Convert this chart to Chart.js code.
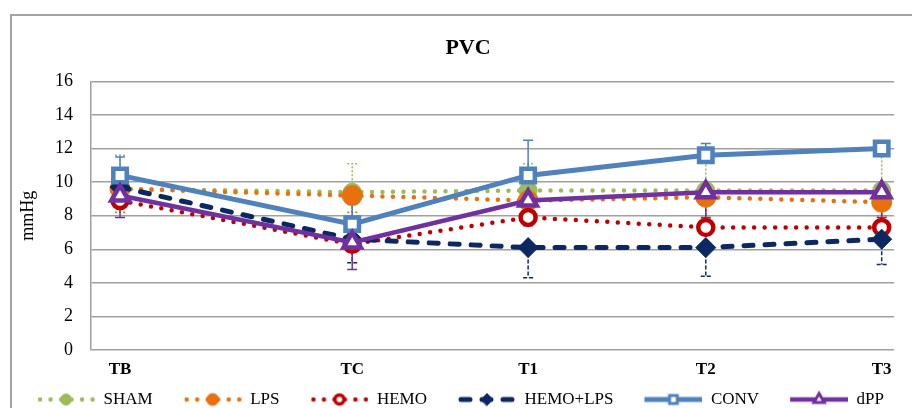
<!DOCTYPE html>
<html>
<head>
<meta charset="utf-8">
<script src="https://cdn.jsdelivr.net/npm/chart.js@4"></script>
<style>
  html, body { margin: 0; padding: 0; background: #fff; overflow: hidden; width: 912px; height: 408px; }
  #frame { position: absolute; left: 10px; top: 14px; width: 940px; height: 440px; border: 2px solid #a3a3a3; box-sizing: border-box; }
  #c { position: absolute; left: 0; top: 0; }
</style>
</head>
<body>
<div id="frame"></div>
<canvas id="c" width="936" height="418"></canvas>
<script>
// ---- data ----
const categories = ['TB', 'TC', 'T1', 'T2', 'T3'];
const timePoints = [0, 1.32, 2.32, 3.33, 4.33];
const yTicks = [0, 2, 4, 6, 8, 10, 12, 14, 16];
const seriesNames = ['SHAM', 'LPS', 'HEMO', 'HEMO+LPS', 'CONV', 'dPP'];

const shamValues    = [9.6, 9.4, 9.5, 9.5, 9.5];
const lpsValues     = [9.6, 9.2, 8.9, 9.1, 8.8];
const hemoValues    = [8.9, 6.3, 7.9, 7.3, 7.3];
const hemoLpsValues = [9.7, 6.6, 6.1, 6.1, 6.6];
const convValues    = [10.4, 7.5, 10.4, 11.6, 12.0];
const dppValues     = [9.2, 6.4, 8.9, 9.4, 9.4];

// standard deviations (drawn one-sided, as in the reference)
const shamErr    = [2.0, 1.7, 1.6, 2.0, 2.4];
const lpsErr     = [1.4, 1.0, 0.8, 1.3, 0.8];
const hemoErr    = [1.0, 3.3, 0.8, 1.6, 1.4];
const hemoLpsErr = [1.0, 1.4, 1.8, 1.7, 1.5];
const convErr    = [1.1, 1.2, 2.1, 0.7, 0.3];
const dppErr     = [1.3, 1.6, 1.5, 1.5, 1.5];

const allValues = [shamValues, lpsValues, hemoValues, hemoLpsValues, convValues, dppValues];
const allErrors = [shamErr, lpsErr, hemoErr, hemoLpsErr, convErr, dppErr];
const errDirection = [1, -1, 1, -1, 1, -1];

// ---- styles ----
const SERIF = "'Liberation Serif', 'DejaVu Serif', serif";
const styles = [
  { color: '#9BBB59', dash: [0, 10.5], width: 4.5, cap: 'round', point: 'circle', fill: '#9BBB59', r: 9, bw: 1, errDash: [2, 2], lr: 5.5, lbw: 1 },
  { color: '#E8700F', dash: [0, 10.5], width: 4.5, cap: 'round', point: 'circle', fill: '#E8700F', r: 10, bw: 1, errDash: [2, 2], lr: 6, lbw: 1 },
  { color: '#C00000', dash: [0, 10.5], width: 4.5, cap: 'round', point: 'circle', fill: '#ffffff', r: 7.5, bw: 4.5, errDash: [2, 2], lr: 4.5, lbw: 3.5 },
  { color: '#0B2862', dash: [9, 12], width: 5, cap: 'round', point: 'rectRot', fill: '#0B2862', r: 10, bw: 1, errDash: [4, 2], lr: 6, lbw: 1 },
  { color: '#4F81BD', dash: [], width: 5, cap: 'butt', point: 'rect', fill: '#ffffff', r: 9.5, bw: 4.5, errDash: [], lr: 5.5, lbw: 3 },
  { color: '#7030A0', dash: [], width: 4.5, cap: 'butt', point: 'triangle', fill: '#ffffff', r: 10, bw: 4.5, errDash: [], lr: 6, lbw: 3 }
];
const drawOrder = [6, 5, 4, 3, 2, 1];

const ICON_GAP = 21, ICON_LEN = 58;
function legendIcon(s) {
  const cv = document.createElement('canvas');
  cv.width = ICON_GAP + ICON_LEN; cv.height = 20;
  const g = cv.getContext('2d');
  g.strokeStyle = s.color;
  g.lineWidth = s.width;
  g.lineCap = s.cap;
  g.setLineDash(s.dash);
  g.beginPath();
  g.moveTo(ICON_GAP + (s.cap === 'round' ? 3 : 0), 10);
  g.lineTo(ICON_GAP + ICON_LEN, 10);
  g.stroke();
  g.setLineDash([]);
  g.fillStyle = s.fill;
  g.strokeStyle = s.color;
  g.lineWidth = s.lbw;
  Chart.helpers.drawPoint(g, { pointStyle: s.point, radius: s.lr, borderWidth: s.lbw, rotation: 0 }, ICON_GAP + ICON_LEN / 2, 10);
  return cv;
}
const legendIcons = styles.map(legendIcon);

const datasets = seriesNames.map((name, i) => {
  const s = styles[i];
  return {
    label: name,
    data: allValues[i].map((v, k) => ({ x: timePoints[k], y: v })),
    borderColor: s.color,
    backgroundColor: s.fill,
    borderWidth: s.width,
    borderDash: s.dash,
    borderCapStyle: s.cap,
    tension: 0,
    pointStyle: s.point,
    pointRadius: s.r,
    pointBorderWidth: s.bw,
    pointBackgroundColor: s.fill,
    pointBorderColor: s.color,
    order: drawOrder[i],
    clip: false
  };
});

const errorBars = {
  id: 'errorBars',
  beforeDatasetsDraw(chart) {
    const ctx = chart.ctx;
    const ys = chart.scales.y;
    const idx = seriesNames.map((_, i) => i).sort((a, b) => drawOrder[b] - drawOrder[a]);
    idx.forEach(di => {
      const meta = chart.getDatasetMeta(di);
      const s = styles[di];
      ctx.save();
      ctx.strokeStyle = s.color;
      ctx.lineWidth = 1.5;
      ctx.setLineDash(s.errDash);
      meta.data.forEach((pt, k) => {
        const v = allValues[di][k];
        const end = v + errDirection[di] * allErrors[di][k];
        const p0 = ys.getPixelForValue(v);
        const p1 = ys.getPixelForValue(end);
        ctx.beginPath();
        ctx.moveTo(pt.x, p0);
        ctx.lineTo(pt.x, p1);
        ctx.moveTo(pt.x - 5, p1);
        ctx.lineTo(pt.x + 5, p1);
        ctx.stroke();
      });
      ctx.restore();
    });
  }
};

// centre the title over the framed chart
const titleShift = {
  id: 'titleShift',
  afterLayout(chart) {
    const t = chart.titleBlock;
    if (t) { t.left = 42; t.width = t.right - t.left; }
  }
};

new Chart(document.getElementById('c'), {
  type: 'line',
  data: { datasets },
  plugins: [errorBars, titleShift],
  options: {
    responsive: false,
    animation: false,
    events: [],
    layout: { padding: { left: 0, right: 42, top: 0, bottom: 0 } },
    plugins: {
      tooltip: { enabled: false },
      title: {
        display: true,
        text: 'PVC',
        color: '#000',
        font: { family: SERIF, size: 22, weight: 'bold' },
        padding: { top: 35, bottom: 20 }
      },
      legend: {
        position: 'bottom',
        align: 'end',
        labels: {
          usePointStyle: true,
          pointStyleWidth: ICON_GAP + ICON_LEN,
          padding: 10,
          color: '#000',
          font: { family: SERIF, size: 17 },
          sort: (a, b) => a.datasetIndex - b.datasetIndex,
          generateLabels(chart) {
            const items = Chart.defaults.plugins.legend.labels.generateLabels(chart);
            items.forEach(it => { it.pointStyle = legendIcons[it.datasetIndex]; });
            return items;
          }
        }
      }
    },
    scales: {
      x: {
        type: 'linear',
        min: -0.165,
        max: 4.40,
        afterBuildTicks(scale) { scale.ticks = timePoints.map(v => ({ value: v })); },
        afterFit(scale) { scale.height = 31; },
        grid: { display: false, drawTicks: false },
        border: { display: false },
        ticks: {
          autoSkip: false,
          maxRotation: 0,
          padding: 9,
          color: '#000',
          font: { family: SERIF, size: 17, weight: 'bold' },
          callback: (v, i) => categories[i]
        }
      },
      y: {
        min: 0,
        max: 16,
        afterBuildTicks(scale) { scale.ticks = yTicks.map(v => ({ value: v })); },
        afterFit(scale) { scale.width = 91; },
        grid: { color: '#a0a0a0', lineWidth: 1.5, drawTicks: false },
        border: { display: true, color: '#a0a0a0', width: 1.5 },
        ticks: {
          padding: 18,
          color: '#000',
          font: { family: SERIF, size: 18 }
        },
        title: {
          display: true,
          text: 'mmHg',
          color: '#000',
          font: { family: SERIF, size: 18 },
          padding: { top: 17, bottom: 0 }
        }
      }
    }
  }
});
</script>
</body>
</html>
